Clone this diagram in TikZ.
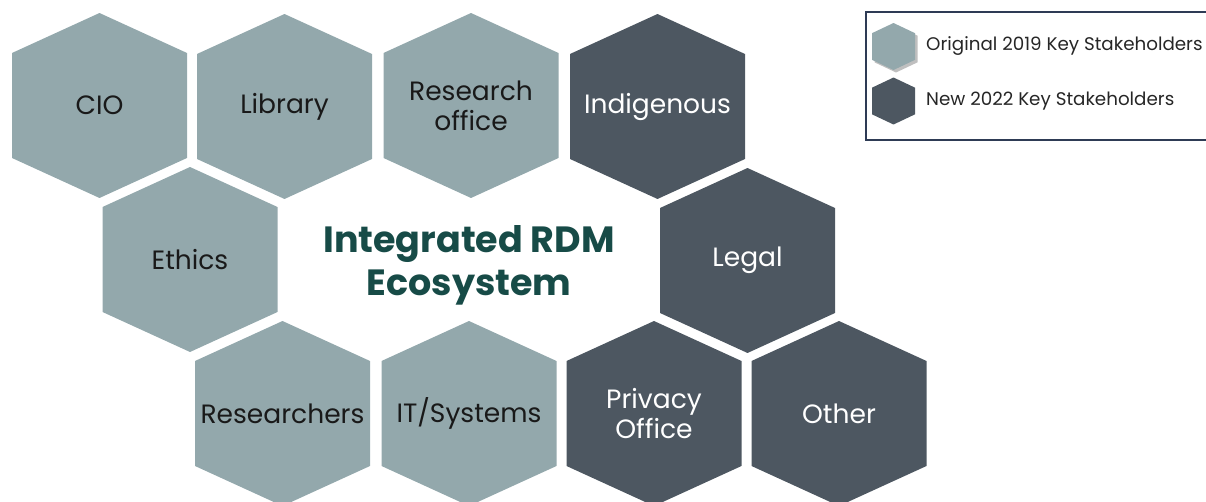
\documentclass[tikz,border=0pt]{standalone}
\usepackage{fontspec}
\setmainfont{Poppins}
\usepackage{tikz}
\usetikzlibrary{positioning}

\definecolor{oldgray}{HTML}{93A8AC}
\definecolor{newgray}{HTML}{4D5761}
\definecolor{ecoteal}{HTML}{174B47}
\definecolor{boxnavy}{HTML}{2E3B55}

% hexagon outline: centre, half width, half height
\newcommand{\hexpath}[3]{(#1) ++(0,-#3) -- ++(#2,{0.4324*#3}) -- ++(0,{1.135*#3})
  -- ++(-#2,{0.4324*#3}) -- ++(-#2,{-0.4324*#3}) -- ++(0,{-1.135*#3}) -- cycle}
% one stakeholder cell: name, kind, centre, text
\newcommand{\hexcell}[4]{%
  \fill[#2] \hexpath{#3}{87.5}{92.5};
  \node[#2 text] (#1) at (#3) {#4};}

\begin{document}
\begin{tikzpicture}[x=1pt,y=-1pt,
    old/.style={fill=oldgray},
    new/.style={fill=newgray},
    old text/.style={text=black!90,align=center,font=\fontsize{26.5}{30}\selectfont},
    new text/.style={text=white,align=center,font=\fontsize{26.5}{30}\selectfont},
    legend text/.style={anchor=west,inner sep=0pt,text=black!85,font=\fontsize{18.3}{21}\selectfont}]
  \useasboundingbox (0,0) rectangle (1206,501);

  % top row
  \hexcell{cio}{old}{99.5,105.5}{CIO}
  \hexcell{library}{old}{284.5,106.5}{Library}
  \hexcell{resoffice}{old}{471,105.5}{Research\\office}
  \hexcell{indigenous}{new}{657.5,106.5}{Indigenous}
  % middle row
  \hexcell{ethics}{old}{190,259.5}{Ethics}
  \hexcell{legal}{new}{747.5,260.5}{Legal}
  % bottom row
  \hexcell{researchers}{old}{282.5,413.5}{Researchers}
  \hexcell{itsystems}{old}{469,413.5}{IT/Systems}
  \hexcell{privacy}{new}{654,413.5}{Privacy\\Office}
  \hexcell{other}{new}{839,413.5}{Other}

  \node[text=ecoteal,align=center,font=\fontsize{36.5}{43}\bfseries] (eco) at (469,265)
    {Integrated RDM\\Ecosystem};

  % legend
  \draw[boxnavy,line width=2pt] (866,12) rectangle (1210,140);
  \fill[black,opacity=0.25] \hexpath{896,49}{21.5}{23.5};
  \fill[oldgray] \hexpath{893.5,46.5}{21.5}{23.5};
  \fill[newgray] \hexpath{893.5,101}{21.5}{23.5};
  \node[legend text] (origkey) at (926,46) {Original 2019 Key Stakeholders};
  \node[legend text] (newkey) at (926,101) {New 2022 Key Stakeholders};
\end{tikzpicture}
\end{document}
